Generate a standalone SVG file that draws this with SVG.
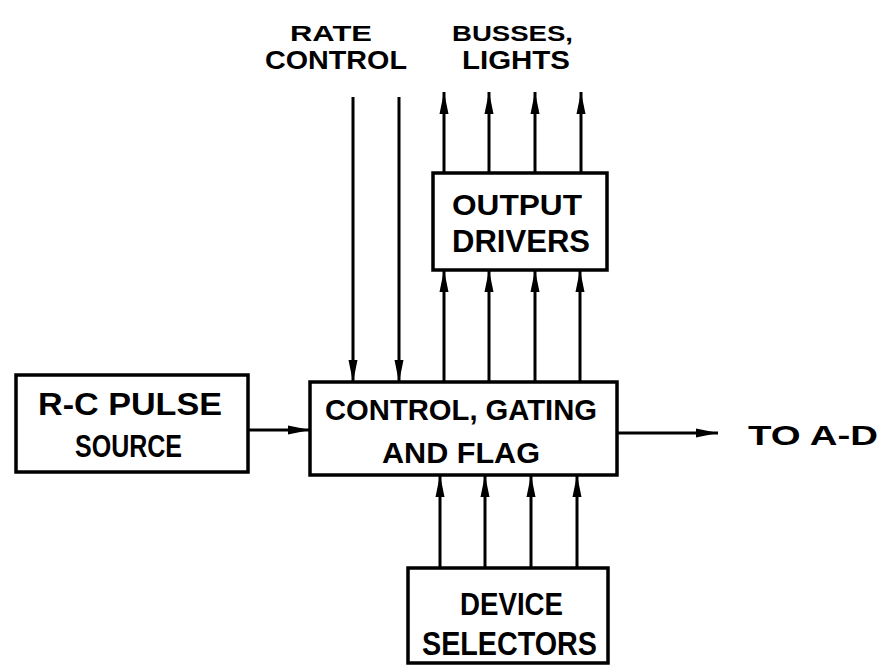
<svg xmlns="http://www.w3.org/2000/svg" width="882" height="666" viewBox="0 0 882 666">
<style>
.box{fill:none;stroke:#000;stroke-width:3.5}
.ln{stroke:#000;stroke-width:3;fill:none}
.t{font-family:"Liberation Sans",Arial,sans-serif;font-weight:bold;fill:#000}
</style>
<defs>
<marker id="ah" viewBox="0 0 22 10" refX="22" refY="5" markerWidth="22" markerHeight="10" markerUnits="userSpaceOnUse" orient="auto">
<path d="M0,0.5 L22,5 L0,9.5 Z" fill="#000"/>
</marker>
</defs>
<rect width="882" height="666" fill="#fff"/>
<g id="labels">
<text class="t" x="290" y="41" font-size="22" textLength="82" lengthAdjust="spacingAndGlyphs">RATE</text>
<text class="t" x="265" y="69" font-size="25" textLength="142" lengthAdjust="spacingAndGlyphs">CONTROL</text>
<text class="t" x="452" y="41" font-size="22" textLength="121" lengthAdjust="spacingAndGlyphs">BUSSES,</text>
<text class="t" x="462" y="69" font-size="25" textLength="108" lengthAdjust="spacingAndGlyphs">LIGHTS</text>
<text class="t" x="748" y="445" font-size="28" textLength="130" lengthAdjust="spacingAndGlyphs">TO A-D</text>
</g>
<g id="rc">
<rect class="box" x="16" y="375" width="232" height="97"/>
<text class="t" x="38" y="415" font-size="32" textLength="184" lengthAdjust="spacingAndGlyphs">R-C PULSE</text>
<text class="t" x="75" y="457" font-size="32" textLength="107" lengthAdjust="spacingAndGlyphs">SOURCE</text>
</g>
<g id="control">
<rect class="box" x="310" y="382" width="307" height="93"/>
<text class="t" x="325" y="420" font-size="30" textLength="272" lengthAdjust="spacingAndGlyphs">CONTROL, GATING</text>
<text class="t" x="382" y="463" font-size="29" textLength="158" lengthAdjust="spacingAndGlyphs">AND FLAG</text>
</g>
<g id="output">
<rect class="box" x="433" y="173" width="174" height="97"/>
<text class="t" x="452" y="215" font-size="30" textLength="130" lengthAdjust="spacingAndGlyphs">OUTPUT</text>
<text class="t" x="452" y="252" font-size="32" textLength="138" lengthAdjust="spacingAndGlyphs">DRIVERS</text>
</g>
<g id="device">
<rect class="box" x="408" y="568" width="200" height="95"/>
<text class="t" x="460" y="615" font-size="31" textLength="103" lengthAdjust="spacingAndGlyphs">DEVICE</text>
<text class="t" x="422" y="655" font-size="33" textLength="175" lengthAdjust="spacingAndGlyphs">SELECTORS</text>
</g>
<g id="connectors">
<line class="ln" x1="353" y1="97" x2="353" y2="382" marker-end="url(#ah)"/>
<line class="ln" x1="399" y1="97" x2="399" y2="382" marker-end="url(#ah)"/>
<line class="ln" x1="444" y1="173" x2="444" y2="92" marker-end="url(#ah)"/>
<line class="ln" x1="489" y1="173" x2="489" y2="92" marker-end="url(#ah)"/>
<line class="ln" x1="535" y1="173" x2="535" y2="92" marker-end="url(#ah)"/>
<line class="ln" x1="581" y1="173" x2="581" y2="92" marker-end="url(#ah)"/>
<line class="ln" x1="444" y1="382" x2="444" y2="270" marker-end="url(#ah)"/>
<line class="ln" x1="489" y1="382" x2="489" y2="270" marker-end="url(#ah)"/>
<line class="ln" x1="535" y1="382" x2="535" y2="270" marker-end="url(#ah)"/>
<line class="ln" x1="580" y1="382" x2="580" y2="270" marker-end="url(#ah)"/>
<line class="ln" x1="440" y1="568" x2="440" y2="475" marker-end="url(#ah)"/>
<line class="ln" x1="485" y1="568" x2="485" y2="475" marker-end="url(#ah)"/>
<line class="ln" x1="531" y1="568" x2="531" y2="475" marker-end="url(#ah)"/>
<line class="ln" x1="577" y1="568" x2="577" y2="475" marker-end="url(#ah)"/>
<line class="ln" x1="248" y1="430" x2="310" y2="430" marker-end="url(#ah)"/>
<line class="ln" x1="617" y1="433" x2="718" y2="433" marker-end="url(#ah)"/>
</g>
</svg>
